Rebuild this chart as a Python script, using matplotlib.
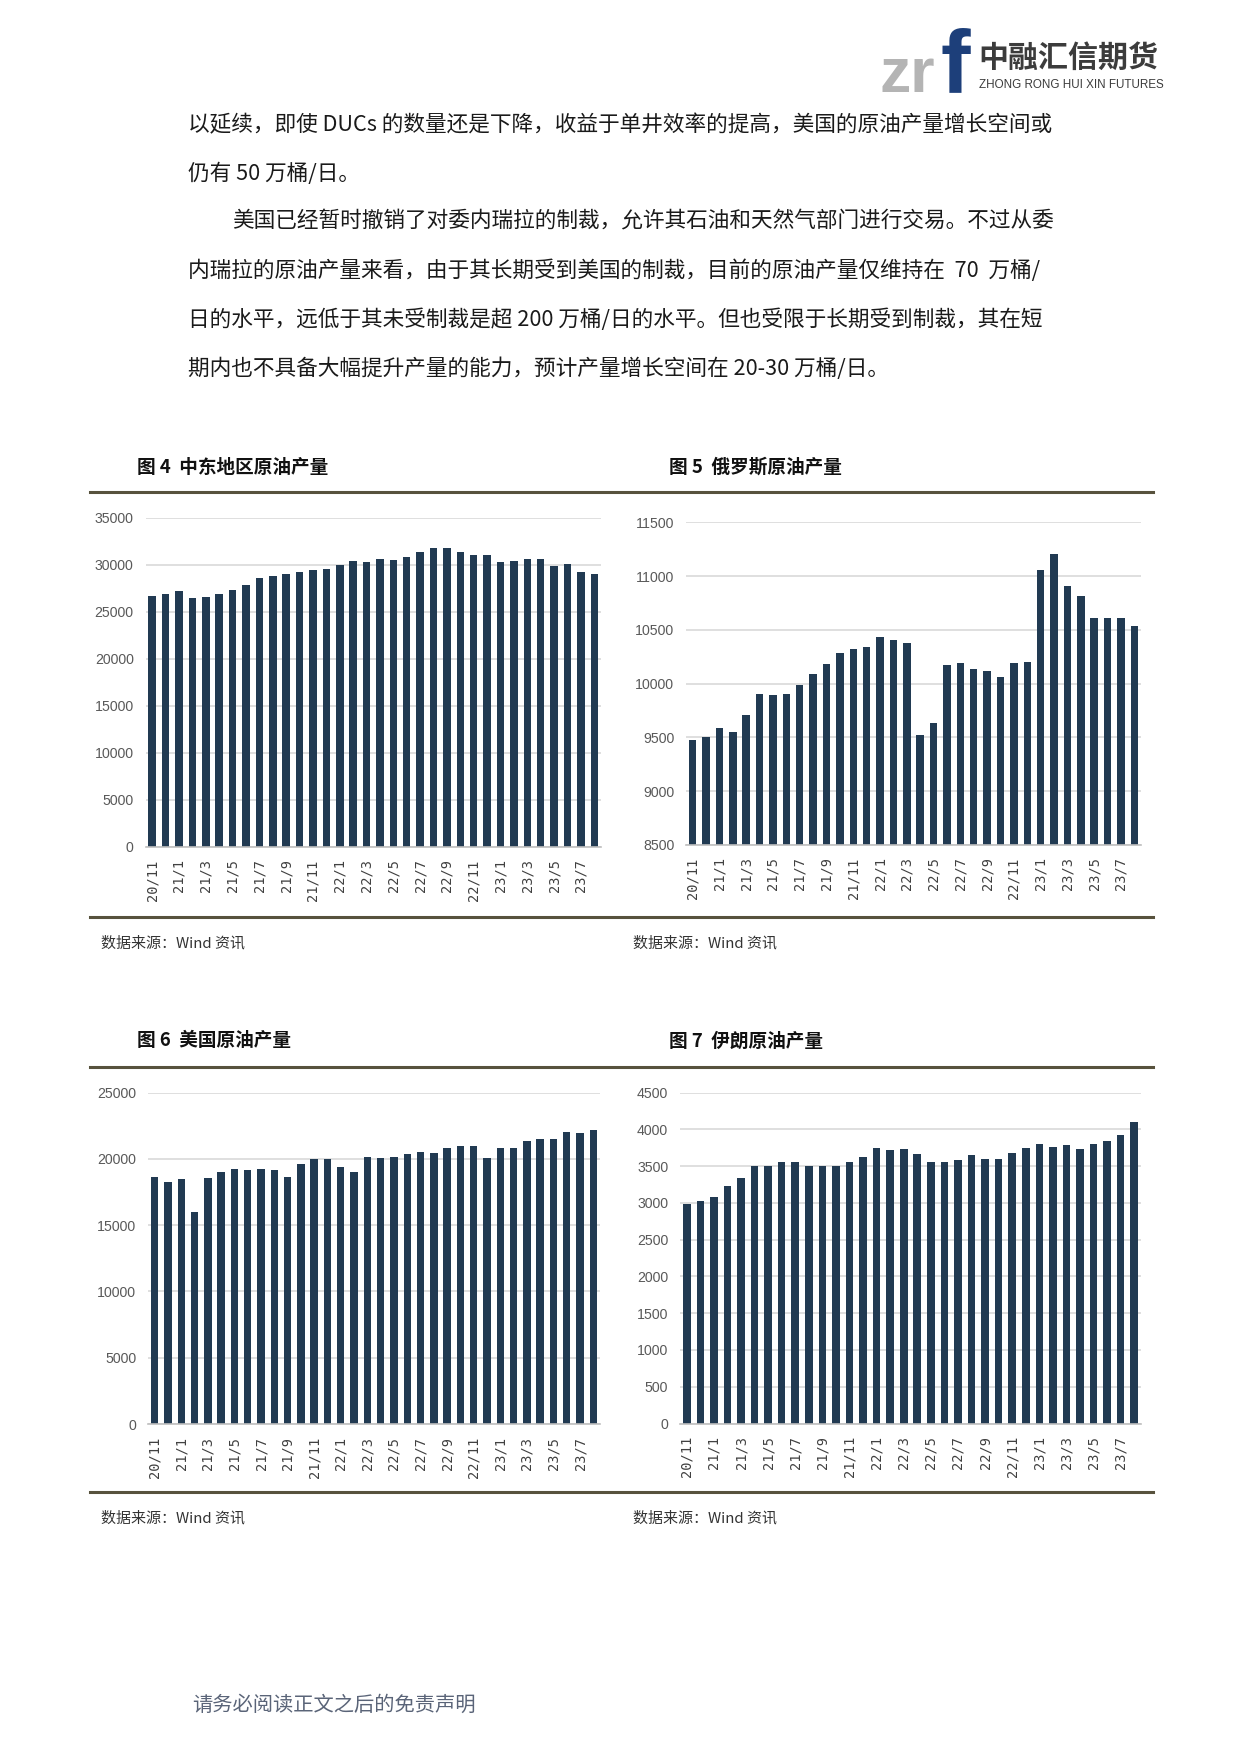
import matplotlib
matplotlib.use('Agg')
import matplotlib.pyplot as plt
from matplotlib.lines import Line2D

W, H = 1241, 1755
DPI = 100

# ---------------- data ----------------
months = ['20/11', '20/12',
          '21/1', '21/2', '21/3', '21/4', '21/5', '21/6', '21/7', '21/8', '21/9', '21/10', '21/11', '21/12',
          '22/1', '22/2', '22/3', '22/4', '22/5', '22/6', '22/7', '22/8', '22/9', '22/10', '22/11', '22/12',
          '23/1', '23/2', '23/3', '23/4', '23/5', '23/6', '23/7', '23/8']

middle_east = [26650, 26900, 27200, 26450, 26550, 26880, 27300, 27840, 28580, 28800, 28970, 29200,
               29430, 29540, 29960, 30390, 30280, 30600, 30500, 30800, 31350, 31770, 31770, 31350,
               31030, 31030, 30280, 30390, 30600, 30600, 29860, 30070, 29200, 29000]

russia = [9480, 9500, 9590, 9555, 9710, 9905, 9895, 9905, 9990, 10090, 10185, 10287,
          10324, 10343, 10436, 10408, 10380, 9524, 9636, 10175, 10194, 10138, 10120, 10064,
          10194, 10203, 11060, 11209, 10911, 10818, 10613, 10613, 10613, 10538]

usa = [18610, 18260, 18460, 16000, 18560, 19010, 19240, 19160, 19240, 19160, 18610, 19620,
       20000, 20000, 19390, 19010, 20150, 20070, 20150, 20370, 20520, 20450, 20820, 20980,
       20980, 20070, 20820, 20820, 21350, 21500, 21500, 22030, 21960, 22180]

iran = [2985, 3026, 3081, 3230, 3339, 3502, 3502, 3552, 3552, 3502, 3502, 3502,
        3552, 3625, 3748, 3720, 3734, 3666, 3552, 3557, 3584, 3652, 3598, 3598,
        3680, 3748, 3802, 3761, 3789, 3734, 3802, 3843, 3925, 4102]

titles = ['图 4  中东地区原油产量', '图 5  俄罗斯原油产量', '图 6  美国原油产量', '图 7  伊朗原油产量']
source_text = '数据来源：Wind 资讯'

yticks_me = [0, 5000, 10000, 15000, 20000, 25000, 30000, 35000]
yticks_ru = [8500, 9000, 9500, 10000, 10500, 11000, 11500]
yticks_us = [0, 5000, 10000, 15000, 20000, 25000]
yticks_ir = [0, 500, 1000, 1500, 2000, 2500, 3000, 3500, 4000, 4500]

body_lines = [
    '以延续，即使 DUCs 的数量还是下降，收益于单井效率的提高，美国的原油产量增长空间或',
    '仍有 50 万桶/日。',
    '美国已经暂时撤销了对委内瑞拉的制裁，允许其石油和天然气部门进行交易。不过从委',
    '内瑞拉的原油产量来看，由于其长期受到美国的制裁，目前的原油产量仅维持在  70  万桶/',
    '日的水平，远低于其未受制裁是超 200 万桶/日的水平。但也受限于长期受到制裁，其在短',
    '期内也不具备大幅提升产量的能力，预计产量增长空间在 20-30 万桶/日。',
]
footer_text = '请务必阅读正文之后的免责声明'

# ---------------- styling ----------------
CJK = ['Noto Sans CJK SC', 'DejaVu Sans']
NARROW = ['Liberation Sans Narrow', 'Liberation Sans', 'DejaVu Sans']
BAR = '#213a52'
GRID = '#d9d9d9'
RULE = '#57523d'

fig = plt.figure(figsize=(W / DPI, H / DPI), dpi=DPI)
fig.patch.set_facecolor('white')


def px(x, y):
    return x / W, 1 - y / H


def ftext(x, y, s, **kw):
    fx, fy = px(x, y)
    return fig.text(fx, fy, s, **kw)


def rect(l, t, r, b):
    return [l / W, 1 - b / H, (r - l) / W, (b - t) / H]


def hrule(x0, x1, y, lw=2.2, color=RULE):
    fig.add_artist(Line2D([x0 / W, x1 / W], [1 - y / H, 1 - y / H],
                          transform=fig.transFigure, color=color, lw=lw))


# ---------------- header logo ----------------
ftext(880, 92, 'zr', fontsize=45, fontweight='bold', color='#b4b4b4',
      family=['Liberation Sans', 'DejaVu Sans'], ha='left', va='baseline')
ftext(941, 92, 'f', fontsize=64, fontweight='bold', color='#1d3f7a',
      family=['Liberation Sans', 'DejaVu Sans'], ha='left', va='baseline')
ftext(978, 58, '中融汇信期货', fontsize=21.6, fontweight='bold', color='#3c3c3c',
      family=CJK, ha='left', va='center')
ftext(979, 85, 'ZHONG RONG HUI XIN FUTURES', fontsize=8.4, color='#3c3c3c',
      family=NARROW, ha='left', va='center')

# ---------------- body text ----------------
line_y = [125, 173.5, 222, 271, 320, 369]
line_x = [188, 188, 232, 188, 188, 188]
for s, x, y in zip(body_lines, line_x, line_y):
    ftext(x, y, s, fontsize=15.6, color='#1a1a1a', family=CJK, ha='left', va='center')

# ---------------- charts ----------------
charts = [
    dict(data=middle_east, yt=yticks_me, box=(145.5, 517.5, 601, 847), title=titles[0],
         tpos=(137, 467), spos=(101, 943)),
    dict(data=russia, yt=yticks_ru, box=(686, 522.5, 1141, 845), title=titles[1],
         tpos=(669, 467), spos=(633, 943)),
    dict(data=usa, yt=yticks_us, box=(148, 1092.5, 600, 1424), title=titles[2],
         tpos=(137, 1041), spos=(101, 1518)),
    dict(data=iran, yt=yticks_ir, box=(680, 1092.5, 1141, 1423.5), title=titles[3],
         tpos=(669, 1041), spos=(633, 1518)),
]

xpos = list(range(len(months)))
for c in charts:
    ax = fig.add_axes(rect(*c['box']))
    ax.bar(xpos, c['data'], width=0.56, color=BAR, zorder=3)
    ax.set_xlim(-0.5, len(months) - 0.5)
    ax.set_ylim(c['yt'][0], c['yt'][-1])
    ax.set_yticks(c['yt'])
    ax.set_yticklabels([str(v) for v in c['yt']], fontsize=10.2, color='#595959', family=NARROW)
    ax.set_xticks(xpos[::2])
    ax.set_xticklabels(months[::2], rotation=90, fontsize=9.8, color='#404040',
                       family=['DejaVu Sans Mono'])
    ax.tick_params(axis='both', length=0)
    ax.tick_params(axis='y', pad=8.5)
    ax.tick_params(axis='x', pad=9)
    for sp in ['top', 'right', 'left']:
        ax.spines[sp].set_visible(False)
    ax.spines['bottom'].set_color('#bfbfbf')
    ax.spines['bottom'].set_linewidth(1.2)
    ax.spines['bottom'].set_zorder(4)
    ax.grid(axis='y', color=GRID, linewidth=1.2, zorder=0)
    ax.set_axisbelow(True)
    ax.patch.set_alpha(0)

    tx, ty = c['tpos']
    ftext(tx, ty, c['title'], fontsize=13.4, fontweight='bold', color='#111111',
          family=CJK, ha='left', va='center')
    sx, sy = c['spos']
    ftext(sx, sy, source_text, fontsize=10.8, color='#333333', family=CJK,
          ha='left', va='center')

# horizontal rules
for y in [492, 917, 1067, 1492]:
    hrule(89.5, 1152.5, y)

# footer
ftext(192, 1705, footer_text, fontsize=14.6, color='#5a6478', family=CJK,
      ha='left', va='center')

fig.savefig('out.png', dpi=DPI, facecolor='white')
